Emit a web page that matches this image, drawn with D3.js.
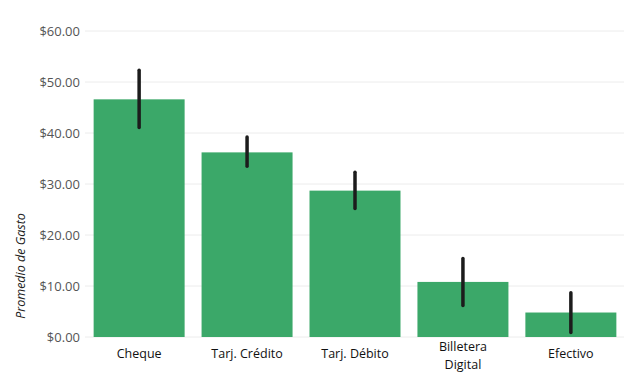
<!DOCTYPE html>
<html><head><meta charset="utf-8">
<script src="https://cdn.jsdelivr.net/npm/d3@7"></script>
<style>body{margin:0;background:#fff}svg{display:block}</style>
</head><body>
<script>
const categories = ["Cheque", "Tarj. Crédito", "Tarj. Débito", "Billetera Digital", "Efectivo"];
const labelLines = [["Cheque"], ["Tarj. Crédito"], ["Tarj. Débito"], ["Billetera", "Digital"], ["Efectivo"]];
const means = [46.6, 36.2, 28.7, 10.8, 4.8];
const errLow = [41.1, 33.5, 25.2, 6.2, 0.9];
const errHigh = [52.3, 39.2, 32.3, 15.4, 8.7];
const yTicks = [0, 10, 20, 30, 40, 50, 60];

const W = 640, H = 382;
const svg = d3.select("body").append("svg").attr("width", W).attr("height", H);
const x = d3.scaleBand().domain(categories).range([85, 625]).paddingInner(0.157).paddingOuter(0.08);
const y = d3.scaleLinear().domain([0, 60]).range([337, 31]);

// gridlines
svg.append("g").selectAll("line").data(yTicks).join("line")
  .attr("x1", 85).attr("x2", 624)
  .attr("y1", d => y(d)).attr("y2", d => y(d))
  .attr("stroke", "#ececec").attr("stroke-width", 1);

// y axis
const yAxis = d3.axisLeft(y).tickValues(yTicks).tickSize(0).tickPadding(0)
  .tickFormat(d => "$" + d3.format(".2f")(d));
const gy = svg.append("g").attr("transform", "translate(80,0)").call(yAxis);
gy.select(".domain").remove();
gy.selectAll("text").attr("font-family", "'Open Sans', sans-serif").attr("font-size", 13).attr("fill", "#555");

// bars
svg.append("g").selectAll("rect").data(categories).join("rect")
  .attr("x", d => x(d)).attr("width", x.bandwidth())
  .attr("y", (d, i) => y(means[i])).attr("height", (d, i) => y(0) - y(means[i]))
  .attr("fill", "#3ba869");

// error bars
svg.append("g").selectAll("line").data(categories).join("line")
  .attr("x1", d => x(d) + x.bandwidth() / 2).attr("x2", d => x(d) + x.bandwidth() / 2)
  .attr("y1", (d, i) => y(errLow[i])).attr("y2", (d, i) => y(errHigh[i]))
  .attr("stroke", "#1c1c1c").attr("stroke-width", 3.5).attr("stroke-linecap", "round");

// x labels
const xl = svg.append("g").selectAll("text").data(categories).join("text")
  .attr("x", d => x(d) + x.bandwidth() / 2)
  .attr("y", (d, i) => labelLines[i].length > 1 ? 351 : 358)
  .attr("text-anchor", "middle")
  .attr("font-family", "'Open Sans', sans-serif").attr("font-size", 12.5).attr("fill", "#111");
xl.each(function(d, i) {
  const t = d3.select(this);
  labelLines[i].forEach((s, j) => {
    t.append("tspan").attr("x", x(d) + x.bandwidth() / 2).attr("dy", j === 0 ? 0 : 18).text(s);
  });
});

// y title
svg.append("text").attr("transform", "translate(25,266) rotate(-90)")
  .attr("text-anchor", "middle").attr("font-family", "'Open Sans', sans-serif")
  .attr("font-style", "italic").attr("font-size", 12.5).attr("fill", "#222")
  .text("Promedio de Gasto");
</script>
</body></html>
